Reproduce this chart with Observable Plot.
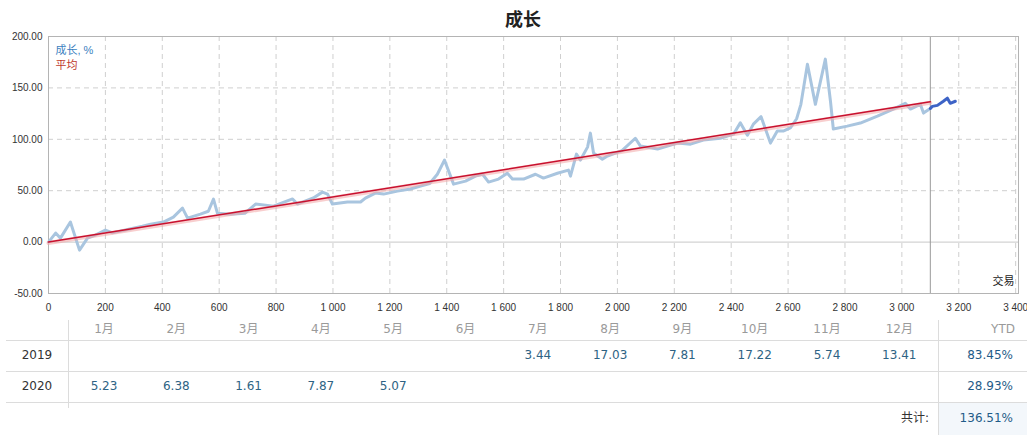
<!DOCTYPE html>
<html><head><meta charset="utf-8">
<script src="https://cdn.jsdelivr.net/npm/d3@7"></script>
<script src="https://cdn.jsdelivr.net/npm/@observablehq/plot@0.6"></script>
<style>
body{margin:0;background:#fff;font-family:"Liberation Sans",Arial,"Noto Sans CJK SC",sans-serif;}
#wrap{position:relative;width:1027px;height:435px;overflow:hidden;background:#fff;}
#title{position:absolute;left:0;width:1046px;top:5px;text-align:center;font-size:18px;font-weight:bold;color:#222;font-family:"Noto Sans CJK SC",sans-serif;line-height:26px;}
#chart{position:absolute;left:0;top:30px;}
.t{position:absolute;font-size:12px;line-height:16px;height:16px;white-space:nowrap;font-family:"DejaVu Sans","Noto Sans CJK SC",sans-serif;}
.hl{position:absolute;height:1px;background:#dcdcdc;}
.vl{position:absolute;width:1px;background:#dcdcdc;}
</style>
</head><body>
<div id="wrap">
  <div id="title">成长</div>
  <div id="chart"></div>
  <div id="table"></div>
</div>
<script>
// ---- data ----
const titleText = "成长";
const growthX = [0,25,42,77,109,137,165,200,225,290,330,359,404,439,471,489,534,562,580,594,640,690,728,791,858,875,931,963,981,998,1051,1097,1114,1149,1178,1227,1272,1308,1340,1367,1392,1424,1466,1501,1526,1547,1582,1613,1631,1670,1712,1740,1789,1828,1835,1856,1870,1895,1905,1916,1947,1965,2016,2063,2081,2141,2211,2257,2302,2362,2408,2432,2457,2478,2505,2538,2562,2583,2608,2630,2645,2668,2696,2731,2749,2759,2808,2854,2914,2970,3012,3030,3065,3076,3100];
const growthY = [0,8.8,3.9,19.5,-7.8,3.9,6.8,11.7,9,13,15.5,17.5,19.5,24.3,33,23.3,27.2,30,41.8,28,27,28,37,35,42,37,43,48.6,46.7,37,39,39,42.8,47.7,46.7,49.6,51.6,54.5,57,66,79.8,56.4,59.3,64.2,66,58.4,61.3,67,61.3,61.3,66,62.3,67,70,64.2,85.6,79.8,92.4,106,86.6,80.7,83.7,89,101,93.4,90.5,96.3,95.3,99.2,101,105,116,104,114.8,122,96.3,108,108,111,120,134,173,134,178,137,110,112.8,115.8,122.6,129.4,135,129.4,134,125.5,130];
const recentX = [3100,3107,3125,3146,3160,3170,3188];
const recentY = [130,132,133,137,140,135,137];
const avgX = [0,3100];
const avgY = [0,136.51];
const splitX = 3100;
const xTicks = [0,200,400,600,800,1000,1200,1400,1600,1800,2000,2200,2400,2600,2800,3000,3200,3400];
const yTicks = [-50,0,50,100,150,200];
const legendLabels = ["成长, %","平均"];
const xLabel = "交易";

const monthLabels = ["1月","2月","3月","4月","5月","6月","7月","8月","9月","10月","11月","12月"];
const years = ["2019","2020"];
const values2019 = [null,null,null,null,null,null,3.44,17.03,7.81,17.22,5.74,13.41];
const values2020 = [5.23,6.38,1.61,7.87,5.07,null,null,null,null,null,null,null];
const ytdLabel = "YTD";
const ytdValues = ["83.45%","28.93%"];
const totalLabel = "共计:";
const totalValue = "136.51%";

// ---- chart ----
const hist = growthX.map((x,i)=>({x, y:growthY[i]}));
const recent = recentX.map((x,i)=>({x, y:recentY[i]}));
const avg = avgX.map((x,i)=>({x, y:avgY[i]}));
const fmtX = d => d3.format(",")(d).replace(/,/g," ");

const chart = Plot.plot({
  width:1027, height:285,
  marginLeft:48, marginRight:9, marginTop:6, marginBottom:22,
  style:{fontFamily:'"Liberation Sans",Arial,"Noto Sans CJK SC",sans-serif', fontSize:"10px", color:"#333", background:"#fff", overflow:"visible"},
  x:{domain:[0,3410], label:null},
  y:{domain:[-50,200], label:null},
  marks:[
    Plot.gridX(xTicks.filter(d=>d>0), {stroke:"#cfcfcf", strokeOpacity:1, strokeDasharray:"5,4"}),
    Plot.gridY(yTicks.filter(d=>d>-50 && d<200 && d!==0), {stroke:"#cfcfcf", strokeOpacity:1, strokeDasharray:"5,4"}),
    Plot.ruleY([0], {stroke:"#c8c8c8"}),
    Plot.ruleX([splitX], {stroke:"#9a9a9a"}),
    Plot.frame({stroke:"#b4b4b4"}),
    Plot.line(hist, {x:"x", y:"y", stroke:"#a9c5df", strokeWidth:3, strokeLinejoin:"round"}),
    Plot.line(recent, {x:"x", y:"y", stroke:"#3d63c6", strokeWidth:3, strokeLinejoin:"round"}),
    Plot.line(avg, {x:"x", y:"y", stroke:"#f3a6a6", strokeWidth:4, strokeOpacity:0.55, dy:1}),
    Plot.line(avg, {x:"x", y:"y", stroke:"#c8102e", strokeWidth:1.5}),
    Plot.axisX(xTicks, {tickSize:0, tickPadding:10, tickFormat:fmtX, fill:"#333"}),
    Plot.axisY(yTicks, {tickSize:0, tickPadding:6, tickFormat:d=>d.toFixed(2), fill:"#333"}),
    Plot.text([legendLabels[0]], {frameAnchor:"top-left", dx:7, dy:10, textAnchor:"start", fill:"#3b7fc0", fontSize:11}),
    Plot.text([legendLabels[1]], {frameAnchor:"top-left", dx:7, dy:25, textAnchor:"start", fill:"#c0392b", fontSize:11}),
    Plot.text([xLabel], {frameAnchor:"bottom-right", dx:-4, dy:-9, textAnchor:"end", fill:"#222", fontSize:11})
  ]
});
document.getElementById("chart").appendChild(chart);
document.getElementById("title").textContent = titleText;

// ---- table ----
const tbl = document.getElementById("table");
function add(cls, css, text){
  const d = document.createElement("div");
  d.className = cls;
  Object.assign(d.style, css);
  if(text!=null) d.textContent = text;
  tbl.appendChild(d);
  return d;
}
// total cell background
add("", {position:"absolute", left:"939px", top:"403px", width:"88px", height:"32px", background:"#f3f7fb"});
// lines
[340,371,402].forEach(y=>add("hl",{left:"6px", width:"1021px", top:y+"px"}));
add("vl",{left:"68px", top:"320px", height:"88px"});
add("vl",{left:"938px", top:"320px", height:"115px"});

const colX = monthLabels.map((m,i)=>104 + i*72.3);
const rowY = [355, 386];
monthLabels.forEach((m,i)=>add("t",{left:(colX[i]-40)+"px", width:"80px", textAlign:"center", top:(329-8)+"px", color:"#9a9a9a"}, m));
add("t",{left:"963px", width:"80px", textAlign:"center", top:(329-8)+"px", color:"#9a9a9a"}, ytdLabel);
const rows = [values2019, values2020];
years.forEach((yr,r)=>{
  add("t",{left:"7px", width:"60px", textAlign:"center", top:(rowY[r]-8)+"px", color:"#333"}, yr);
  rows[r].forEach((v,i)=>{
    if(v!=null) add("t",{left:(colX[i]-40)+"px", width:"80px", textAlign:"center", top:(rowY[r]-8)+"px", color:"#2e6384"}, v.toFixed(2));
  });
  add("t",{left:"900px", width:"113px", textAlign:"right", top:(rowY[r]-8)+"px", color:"#1f5b88"}, ytdValues[r]);
});
add("t",{left:"830px", width:"99px", textAlign:"right", top:(418-8)+"px", color:"#333"}, totalLabel);
add("t",{left:"900px", width:"113px", textAlign:"right", top:(418-8)+"px", color:"#1f5b88"}, totalValue);
</script>
</body></html>
